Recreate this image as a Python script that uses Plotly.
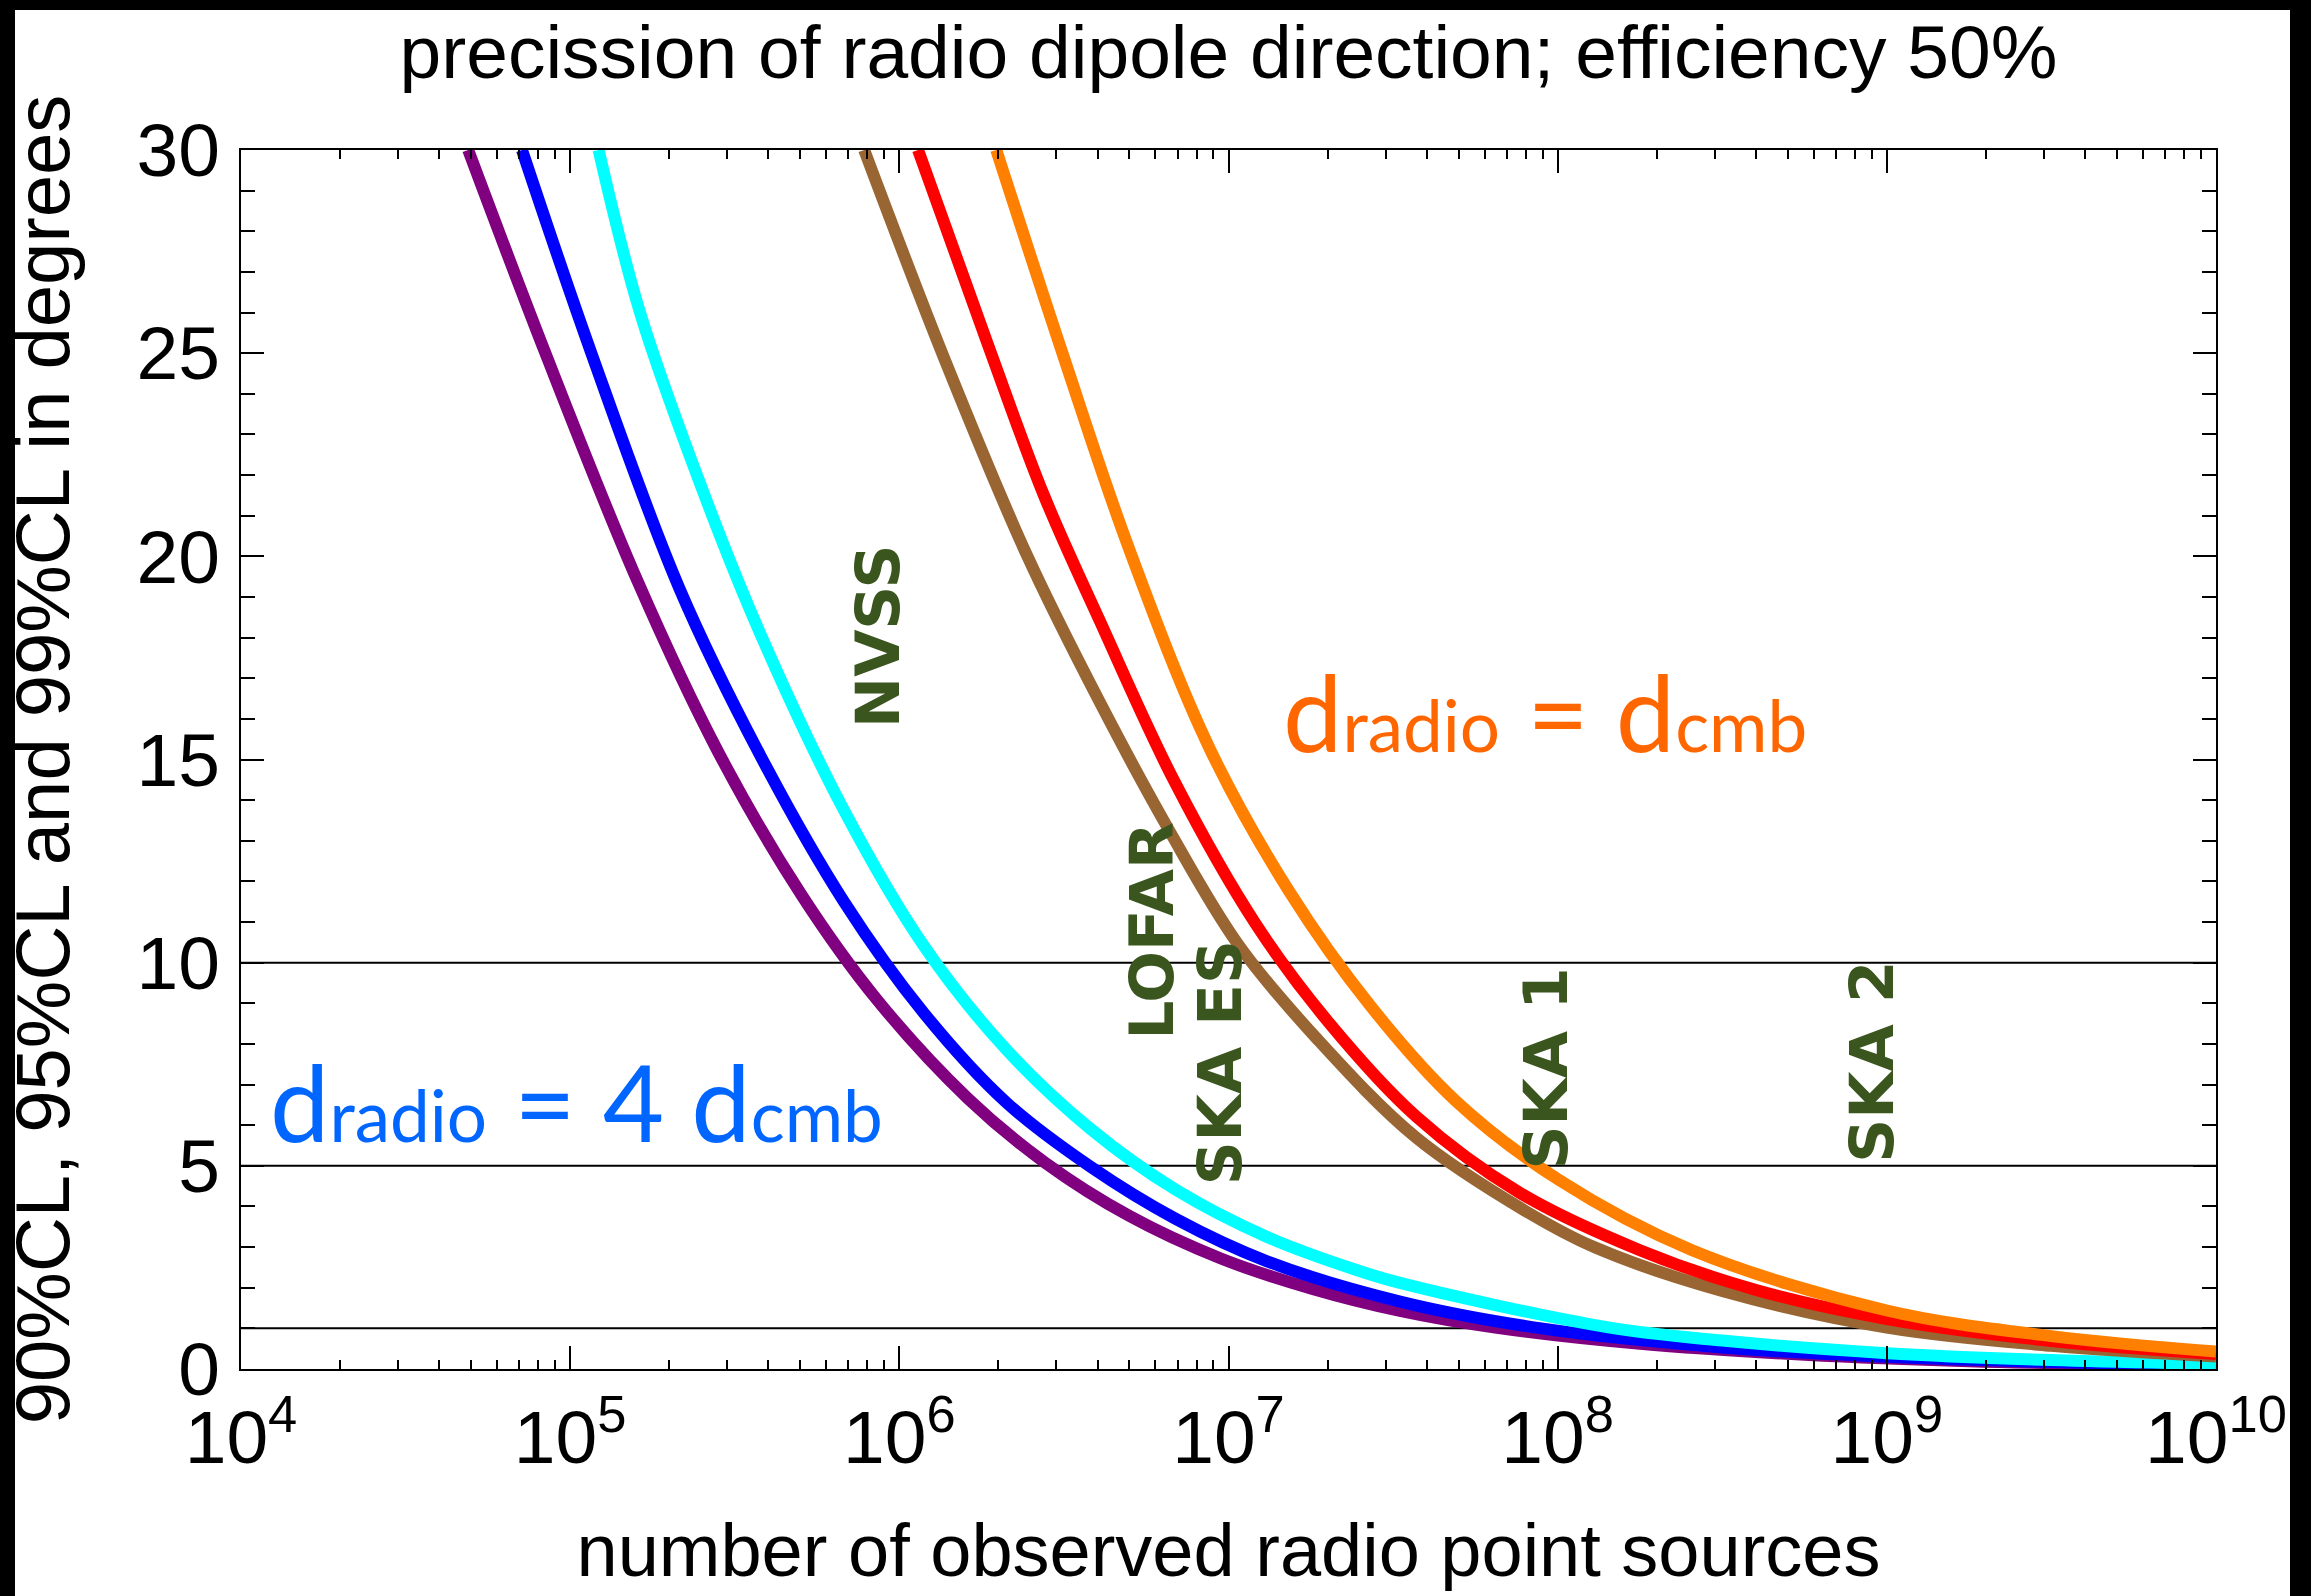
import plotly.graph_objects as go

# ---------------- data ----------------
n_purple = [4.90e4, 8.41e4, 1.60e5, 2.81e5, 5.06e5, 8.53e5, 1.62e6, 2.77e6, 4.99e6, 9.48e6,
            1.80e7, 3.32e7, 6.46e7, 1.78e8, 5.62e8, 1.78e9, 1.0e10]
theta_purple = [30, 25.0, 19.4, 15.2, 11.65, 9.1, 6.65, 5.08, 3.77, 2.72,
                1.97, 1.43, 1.02, 0.62, 0.35, 0.19, 0.08]

n_blue = [7.14e4, 1.16e5, 2.15e5, 3.78e5, 6.79e5, 1.19e6, 2.12e6, 3.82e6, 6.89e6, 1.31e7,
          3.32e7, 8.91e7, 3.16e8, 1.0e9, 3.16e9, 1.0e10]
theta_blue = [30, 25.0, 19.2, 15.1, 11.5, 8.75, 6.55, 4.97, 3.70, 2.65,
              1.66, 1.0, 0.53, 0.30, 0.17, 0.095]

n_cyan = [1.22e5, 1.63e5, 2.56e5, 3.78e5, 6.79e5, 1.19e6, 2.12e6, 3.82e6, 6.89e6, 1.31e7,
          2.42e7, 3.32e7, 1.41e8, 3.16e8, 1.0e9, 3.16e9, 1.0e10]
theta_cyan = [30, 26.0, 21.5, 18.1, 13.75, 10.4, 7.85, 5.9, 4.42, 3.25,
              2.45, 2.12, 1.03, 0.70, 0.39, 0.22, 0.125]

n_brown = [7.82e5, 1.38e6, 2.45e6, 4.07e6, 6.61e6, 1.07e7, 1.87e7, 3.71e7, 7.94e7, 1.29e8,
           3.16e8, 1.0e9, 3.16e9, 1.0e10]
theta_brown = [30, 24.8, 20.0, 16.4, 13.25, 10.45, 8.10, 5.70, 3.90, 3.0,
               1.92, 1.02, 0.57, 0.31]

n_red = [1.14e6, 1.86e6, 2.75e6, 4.07e6, 6.86e6, 1.21e7, 2.03e7, 3.71e7, 7.62e7, 1.77e8,
         3.98e8, 1.0e9, 3.16e9, 1.0e10]
theta_red = [30, 25.2, 21.5, 18.4, 14.45, 10.95, 8.5, 6.22, 4.35, 2.93,
             1.95, 1.23, 0.69, 0.37]

n_orange = [1.97e6, 3.16e6, 4.98e6, 8.73e6, 1.53e7, 2.69e7, 4.90e7, 1.01e8, 2.55e8, 1.0e9,
            3.16e9, 1.0e10]
theta_orange = [30, 24.9, 20.2, 15.3, 11.75, 8.95, 6.6, 4.65, 2.93, 1.44,
                0.81, 0.43]

ref_levels = [10, 5, 1]
x_tick_exponents = [4, 5, 6, 7, 8, 9, 10]
y_ticks = [0, 5, 10, 15, 20, 25, 30]
surveys = ["NVSS", "LOFAR", "SKA ES", "SKA 1", "SKA 2"]

# ---------------- figure ----------------
W, H = 2311, 1596
ML, MR, MT, MB = 241, 95, 150, 227
PW, PH = W - ML - MR, H - MT - MB


def px_x(X):
    return (X - ML) / PW


def px_y(Y):
    return (H - MB - Y) / PH


fig = go.Figure()
series = [
    (n_purple, theta_purple, "#800080"),
    (n_blue, theta_blue, "#0000ff"),
    (n_cyan, theta_cyan, "#00ffff"),
    (n_brown, theta_brown, "#996633"),
    (n_red, theta_red, "#ff0000"),
    (n_orange, theta_orange, "#ff8000"),
]
for xs, ys, col in series:
    fig.add_trace(go.Scatter(x=xs, y=ys, mode="lines",
                             line=dict(color=col, width=12, shape="spline", smoothing=1.0),
                             showlegend=False, hoverinfo="skip"))

shapes = []
for lv in ref_levels:
    shapes.append(dict(type="line", xref="paper", yref="y", x0=0, x1=1, y0=lv, y1=lv,
                       line=dict(color="black", width=2), layer="below"))
# black frame bands of the original image
shapes.append(dict(type="rect", xref="paper", yref="paper", x0=px_x(-5), x1=px_x(15),
                   y0=px_y(H + 5), y1=px_y(-5), fillcolor="black", line=dict(width=0), layer="above"))
shapes.append(dict(type="rect", xref="paper", yref="paper", x0=px_x(2290), x1=px_x(W + 5),
                   y0=px_y(H + 5), y1=px_y(-5), fillcolor="black", line=dict(width=0), layer="above"))
shapes.append(dict(type="rect", xref="paper", yref="paper", x0=px_x(-5), x1=px_x(W + 5),
                   y0=px_y(10), y1=px_y(-5), fillcolor="black", line=dict(width=0), layer="above"))

label_font = dict(family="DejaVu Sans, sans-serif", size=61, color="#3a561e", weight="bold")
survey_pos = [(5.935, 18.04), (6.766, 10.78), (6.972, 7.53), (7.963, 7.41), (8.953, 7.57)]
annotations = []
for name, (lx, ly) in zip(surveys, survey_pos):
    annotations.append(dict(text=name, x=lx, y=ly, xref="x", yref="y", showarrow=False,
                            textangle=-90, font=label_font, xanchor="center", yanchor="middle"))

big = 106
small = 71
annotations.append(dict(
    text=f'd<span style="font-size:{small}px">radio</span> = 4 d<span style="font-size:{small}px">cmb</span>',
    x=5.018, y=6.6, xref="x", yref="y", showarrow=False, xanchor="center", yanchor="middle",
    font=dict(family="Lato, sans-serif", size=big, color="#0066ff")))
annotations.append(dict(
    text=f'd<span style="font-size:{small}px">radio</span> = d<span style="font-size:{small}px">cmb</span>',
    x=7.962, y=16.2, xref="x", yref="y", showarrow=False, xanchor="center", yanchor="middle",
    font=dict(family="Lato, sans-serif", size=big, color="#ff6600")))

main_font = "Liberation Sans, Arial, Helvetica, sans-serif"

fig.update_layout(
    width=W, height=H,
    margin=dict(l=ML, r=MR, t=MT, b=MB, pad=0),
    paper_bgcolor="white", plot_bgcolor="white",
    title=dict(text="precission of radio dipole direction; efficiency 50%",
               font=dict(family=main_font, size=75, color="black"),
               x=0.5, xref="paper", xanchor="center",
               y=1 - 52 / H, yref="container", yanchor="middle"),
    shapes=shapes, annotations=annotations, showlegend=False,
)

fig.update_xaxes(
    type="log", range=[4, 10],
    tickvals=[10 ** e for e in x_tick_exponents],
    ticktext=[f"10<sup>{e}</sup>" for e in x_tick_exponents],
    ticks="inside", ticklen=23, tickwidth=2, tickcolor="black",
    minor=dict(ticks="inside", ticklen=9, tickwidth=2, tickcolor="black", dtick="D1", showgrid=False),
    showline=True, linecolor="black", linewidth=2, mirror="allticks",
    showgrid=False, zeroline=False,
    tickfont=dict(family=main_font, size=75, color="black"),
    ticklabelstandoff=2,
    title=dict(text="number of observed radio point sources",
               font=dict(family=main_font, size=74, color="black"), standoff=46),
)
fig.update_yaxes(
    range=[0, 30],
    tickvals=y_ticks, ticktext=[str(v) for v in y_ticks],
    ticks="inside", ticklen=23, tickwidth=2, tickcolor="black",
    minor=dict(ticks="inside", ticklen=14, tickwidth=2, tickcolor="black", dtick=1, showgrid=False),
    showline=True, linecolor="black", linewidth=2, mirror="allticks",
    showgrid=False, zeroline=False,
    tickfont=dict(family=main_font, size=75, color="black"),
    ticklabelstandoff=4,
    title=dict(text="90%CL, 95%CL and 99%CL in degrees",
               font=dict(family=main_font, size=76, color="black"), standoff=58),
)

fig.write_html("out.html", config={"displayModeBar": False},
               post_script="document.body.style.margin='0';document.body.style.overflow='hidden';")
